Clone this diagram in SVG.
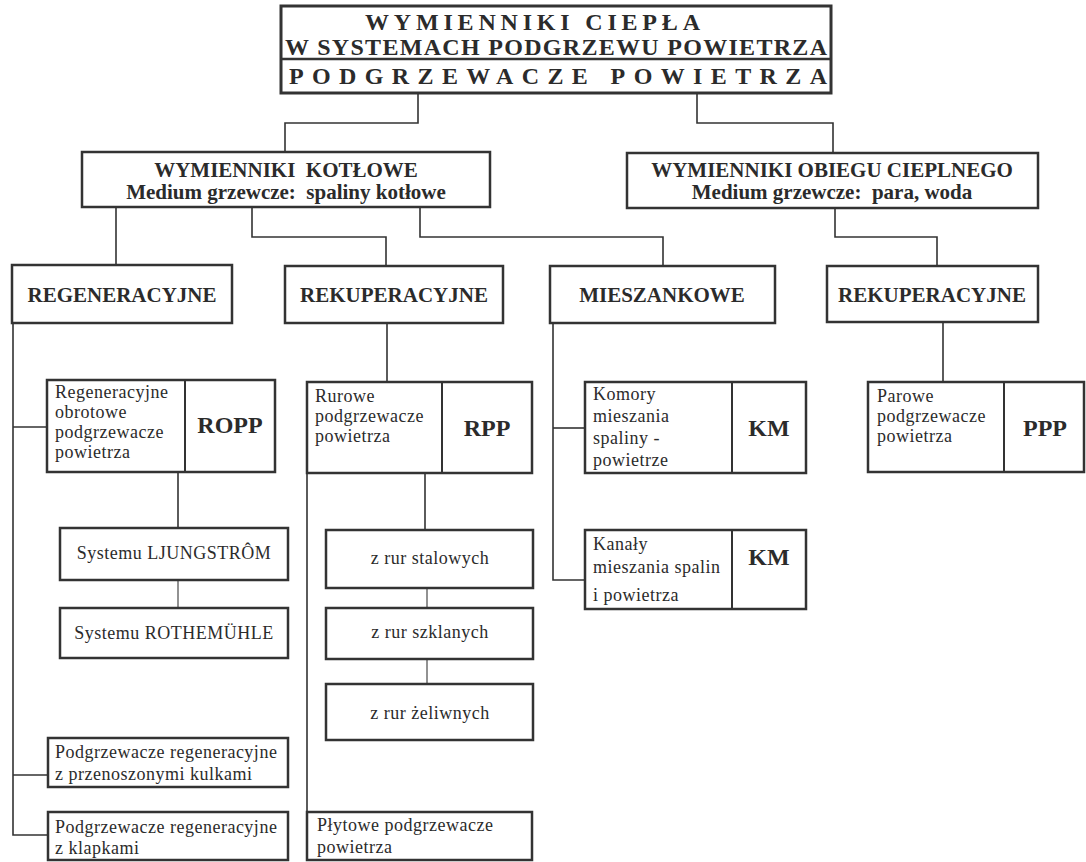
<svg xmlns="http://www.w3.org/2000/svg" width="1086" height="862" viewBox="0 0 1086 862">
<style>
.box{fill:#fff;stroke:#333;stroke-width:2.5}
.con{fill:none;stroke:#333;stroke-width:1.6}
.lt{stroke:#777}
.h{font-family:"Liberation Serif",serif;font-weight:bold;fill:#2b2b2b;white-space:pre}
.s{font-family:"Liberation Serif",serif;font-size:18px;fill:#2b2b2b;letter-spacing:0.5px}
.c{text-anchor:middle}
</style>
<rect width="1086" height="862" fill="#fff"/>
<g id="connectors">
<path class="con" d="M418,93 V123 H285 V152"/>
<path class="con" d="M697,93 V123 H833 V153"/>
<path class="con" d="M116,207 V265"/>
<path class="con" d="M252,207 V237 H386 V266"/>
<path class="con" d="M420,207 V237 H663 V266"/>
<path class="con" d="M835,208 V237 H937 V266"/>
<path class="con" d="M13,323 V835 H48"/>
<path class="con" d="M13,427 H47"/>
<path class="con" d="M13,775 H48"/>
<path class="con" d="M178,472 V528"/>
<path class="con lt" d="M178,580 V608"/>
<path class="con" d="M387,323 V382"/>
<path class="con" d="M425,473 V530"/>
<path class="con lt" d="M427,588 V608"/>
<path class="con lt" d="M427,659 V684"/>
<path class="con" d="M307,473 V812"/>
<path class="con" d="M553,323 V580 H585"/>
<path class="con" d="M553,428 H585"/>
<path class="con" d="M943,322 V382"/>
</g>
<g id="top">
<rect class="box" x="281" y="6" width="550" height="87" style="stroke-width:3"/>
<line x1="281" y1="59" x2="831" y2="59" stroke="#333" stroke-width="2.5"/>
<text class="h" x="365" y="30" font-size="24" textLength="335" lengthAdjust="spacing">WYMIENNIKI CIEPŁA</text>
<text class="h" x="285" y="55" font-size="24" textLength="542" lengthAdjust="spacing">W SYSTEMACH PODGRZEWU POWIETRZA</text>
<text class="h" x="289" y="84" font-size="24" textLength="538" lengthAdjust="spacing">PODGRZEWACZE POWIETRZA</text>
</g>
<g id="kotlowe">
<rect class="box" x="82" y="152" width="408" height="55"/>
<text class="h c" x="286" y="177" font-size="21">WYMIENNIKI  KOTŁOWE</text>
<text class="h c" x="286" y="199" font-size="21">Medium grzewcze:  spaliny kotłowe</text>
</g>
<g id="obiegu">
<rect class="box" x="627" y="153" width="411" height="55"/>
<text class="h c" x="832" y="177" font-size="21">WYMIENNIKI OBIEGU CIEPLNEGO</text>
<text class="h c" x="832" y="199" font-size="21">Medium grzewcze:  para, woda</text>
</g>
<g id="regeneracyjne">
<rect class="box" x="12" y="265" width="220" height="58"/>
<text class="h c" x="122" y="302" font-size="21">REGENERACYJNE</text>
</g>
<g id="rekuperacyjne1">
<rect class="box" x="285" y="266" width="218" height="57"/>
<text class="h c" x="394" y="302" font-size="21">REKUPERACYJNE</text>
</g>
<g id="mieszankowe">
<rect class="box" x="550" y="266" width="225" height="57"/>
<text class="h c" x="662" y="302" font-size="21">MIESZANKOWE</text>
</g>
<g id="rekuperacyjne2">
<rect class="box" x="827" y="266" width="211" height="56"/>
<text class="h c" x="932" y="302" font-size="21">REKUPERACYJNE</text>
</g>
<g id="ropp">
<rect class="box" x="47" y="380" width="228" height="92"/>
<line x1="185" y1="380" x2="185" y2="472" stroke="#333" stroke-width="2"/>
<text class="s" x="55" y="398">Regeneracyjne</text>
<text class="s" x="55" y="418">obrotowe</text>
<text class="s" x="55" y="438">podgrzewacze</text>
<text class="s" x="55" y="458">powietrza</text>
<text class="h c" x="230" y="433" font-size="24">ROPP</text>
</g>
<g id="ljungstrom">
<rect class="box" x="60" y="528" width="228" height="52"/>
<text class="s c" x="174" y="559">Systemu LJUNGSTRÔM</text>
</g>
<g id="rothemuhle">
<rect class="box" x="60" y="608" width="228" height="50"/>
<text class="s c" x="174" y="639">Systemu ROTHEMÜHLE</text>
</g>
<g id="kulkami">
<rect class="box" x="48" y="738" width="240" height="49"/>
<text class="s" x="55" y="758">Podgrzewacze regeneracyjne</text>
<text class="s" x="55" y="780">z przenoszonymi kulkami</text>
</g>
<g id="klapkami">
<rect class="box" x="48" y="812" width="240" height="48"/>
<text class="s" x="55" y="833">Podgrzewacze regeneracyjne</text>
<text class="s" x="55" y="854">z klapkami</text>
</g>
<g id="rpp">
<rect class="box" x="307" y="382" width="225" height="91"/>
<line x1="442" y1="382" x2="442" y2="473" stroke="#333" stroke-width="2"/>
<text class="s" x="315" y="402">Rurowe</text>
<text class="s" x="315" y="422">podgrzewacze</text>
<text class="s" x="315" y="442">powietrza</text>
<text class="h c" x="487" y="436" font-size="24">RPP</text>
</g>
<g id="stalowych">
<rect class="box" x="326" y="530" width="207" height="58"/>
<text class="s c" x="430" y="564">z rur stalowych</text>
</g>
<g id="szklanych">
<rect class="box" x="326" y="608" width="207" height="51"/>
<text class="s c" x="430" y="638">z rur szklanych</text>
</g>
<g id="zeliwnych">
<rect class="box" x="326" y="684" width="207" height="56"/>
<text class="s c" x="430" y="719">z rur żeliwnych</text>
</g>
<g id="plytowe">
<rect class="box" x="307" y="812" width="225" height="48"/>
<text class="s" x="317" y="831">Płytowe podgrzewacze</text>
<text class="s" x="317" y="853">powietrza</text>
</g>
<g id="komory">
<rect class="box" x="585" y="382" width="221" height="91"/>
<line x1="732" y1="382" x2="732" y2="473" stroke="#333" stroke-width="2"/>
<text class="s" x="593" y="400">Komory</text>
<text class="s" x="593" y="422">mieszania</text>
<text class="s" x="593" y="444">spaliny -</text>
<text class="s" x="593" y="466">powietrze</text>
<text class="h c" x="769" y="436" font-size="24">KM</text>
</g>
<g id="kanaly">
<rect class="box" x="585" y="530" width="221" height="79"/>
<line x1="732" y1="530" x2="732" y2="609" stroke="#333" stroke-width="2"/>
<text class="s" x="593" y="550">Kanały</text>
<text class="s" x="593" y="573">mieszania spalin</text>
<text class="s" x="593" y="601">i  powietrza</text>
<text class="h c" x="769" y="565" font-size="24">KM</text>
</g>
<g id="ppp">
<rect class="box" x="868" y="382" width="216" height="90"/>
<line x1="1004" y1="382" x2="1004" y2="472" stroke="#333" stroke-width="2"/>
<text class="s" x="877" y="402">Parowe</text>
<text class="s" x="877" y="422">podgrzewacze</text>
<text class="s" x="877" y="442">powietrza</text>
<text class="h c" x="1045" y="436" font-size="24">PPP</text>
</g>
</svg>
